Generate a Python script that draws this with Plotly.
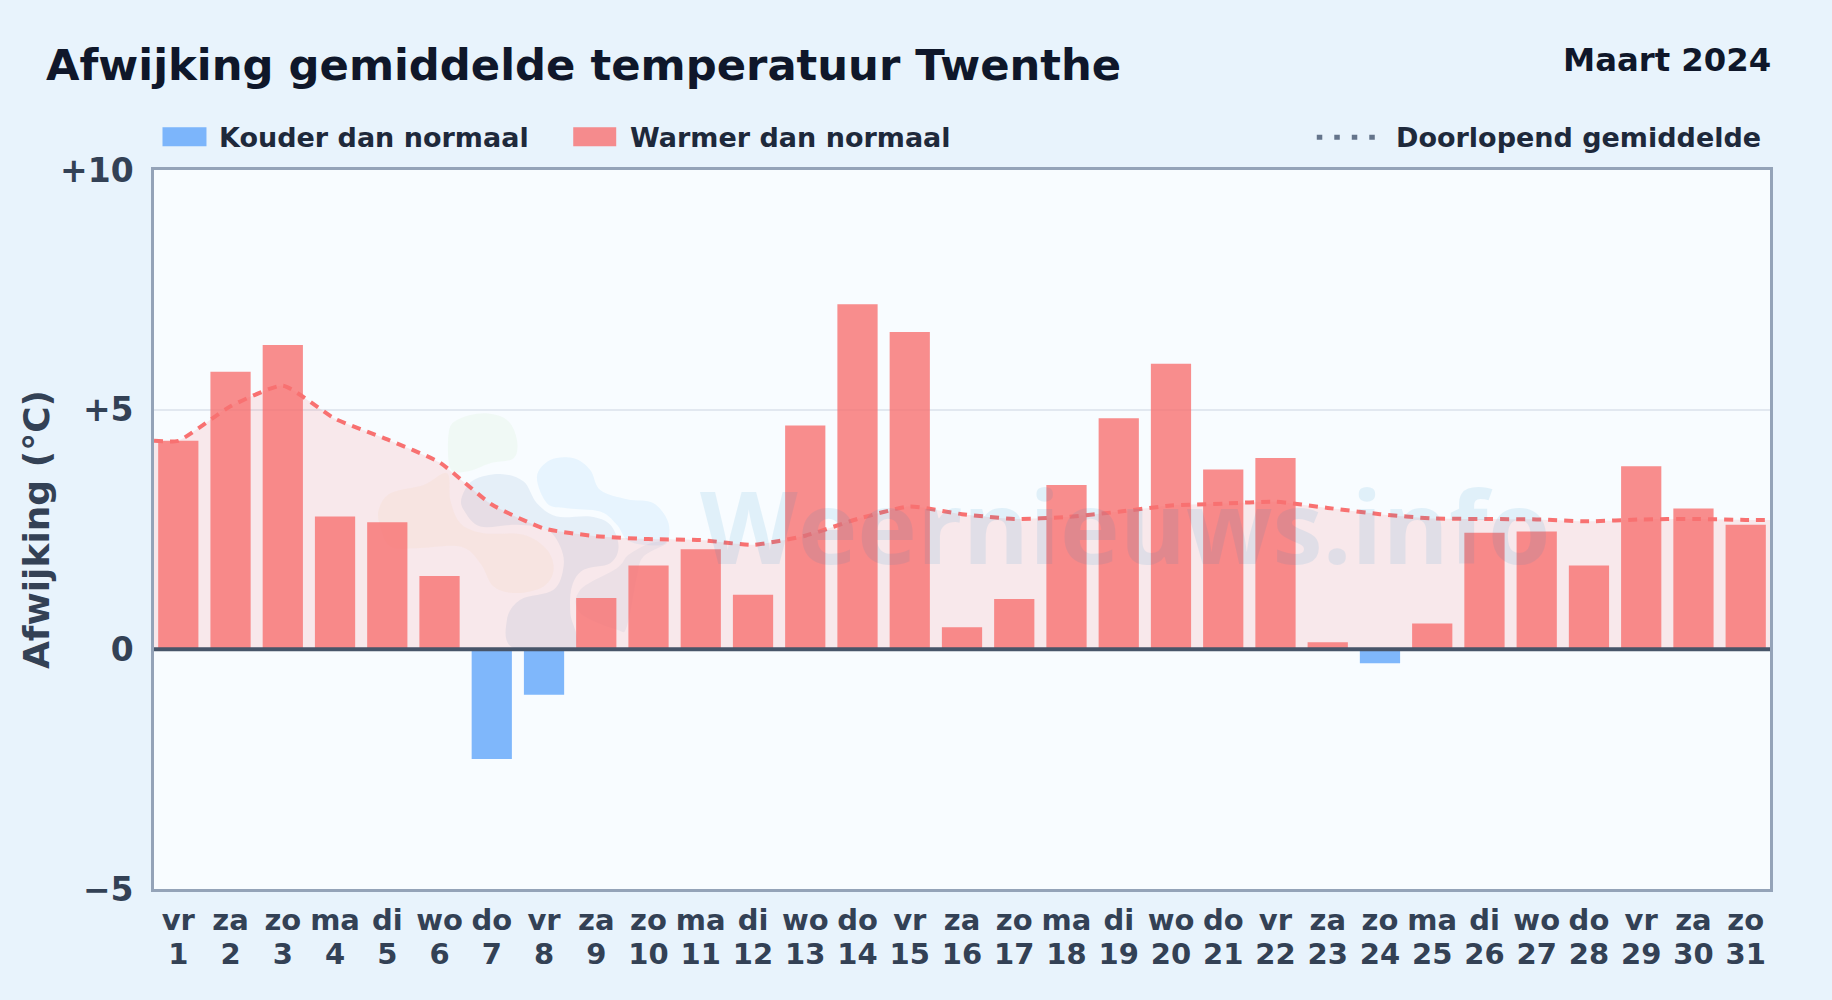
import plotly.graph_objects as go

days = ["vr","za","zo","ma","di","wo","do","vr","za","zo","ma","di","wo","do","vr","za","zo","ma","di","wo","do","vr","za","zo","ma","di","wo","do","vr","za","zo"]
dates = list(range(1, 32))
afwijking = [4.35,5.79,6.35,2.77,2.65,1.53,-2.29,-0.95,1.07,1.75,2.09,1.14,4.67,7.2,6.62,0.46,1.05,3.43,4.82,5.96,3.75,3.99,0.15,-0.29,0.54,2.43,2.46,1.75,3.82,2.94,2.6]
doorlopend = [4.35,5.07,5.5,4.81,4.38,3.9,3.02,2.52,2.36,2.3,2.28,2.18,2.37,2.72,2.98,2.82,2.72,2.76,2.87,3.0,3.04,3.08,2.95,2.82,2.73,2.72,2.71,2.67,2.71,2.72,2.7]
ytick_vals = [-5, 0, 5, 10]
ytick_text = ["−5", "0", "+5", "+10"]
x_range = [0.535, 31.465]

W, H = 1832, 1000
L, R, T, B = 153.5, 1770.5, 169.8, 889.5
FONT = "DejaVu Sans"
def px(x): return (x - L) / (R - L)
def py(y): return (B - y) / (B - T)

warm_x = [d for d, v in zip(dates, afwijking) if v >= 0]
warm_y = [v for v in afwijking if v >= 0]
cold_x = [d for d, v in zip(dates, afwijking) if v < 0]
cold_y = [v for v in afwijking if v < 0]

fig = go.Figure()
line_x = [x_range[0]] + dates + [x_range[1]]
line_y = [doorlopend[0]] + doorlopend + [doorlopend[-1]]
fig.add_trace(go.Scatter(x=line_x, y=line_y, mode="lines", fill="tozeroy",
                         fillcolor="rgba(248,113,113,0.14)", line=dict(width=0, shape="spline", smoothing=0.5),
                         hoverinfo="skip", showlegend=False))
fig.add_trace(go.Bar(x=warm_x, y=warm_y, name="Warmer dan normaal", marker=dict(color="rgba(248,113,113,0.8)", line_width=0)))
fig.add_trace(go.Bar(x=cold_x, y=cold_y, name="Kouder dan normaal", marker=dict(color="rgba(96,165,250,0.8)", line_width=0)))
fig.add_trace(go.Scatter(x=line_x, y=line_y, mode="lines", name="Doorlopend gemiddelde",
                         line=dict(color="#f87171", width=4, dash="9px,7px", shape="spline", smoothing=0.5)))

# watermark logo blobs (zoomed-crop coordinates)
def blob(points, color):
    pts = [(350 + x / 3, 400 + y / 3) for x, y in points]
    n = len(pts)
    P = [(px(x), py(y)) for x, y in pts]
    d = f"M {P[0][0]:.5f} {P[0][1]:.5f}"
    for i in range(n):
        p0, p1, p2, p3 = P[i - 1], P[i], P[(i + 1) % n], P[(i + 2) % n]
        c1 = (p1[0] + (p2[0] - p0[0]) / 6, p1[1] + (p2[1] - p0[1]) / 6)
        c2 = (p2[0] - (p3[0] - p1[0]) / 6, p2[1] - (p3[1] - p1[1]) / 6)
        d += f" C {c1[0]:.5f} {c1[1]:.5f} {c2[0]:.5f} {c2[1]:.5f} {p2[0]:.5f} {p2[1]:.5f}"
    return dict(type="path", xref="paper", yref="paper", path=d + " Z", fillcolor=color, line_width=0, layer="below")

shapes = [
    blob([(295,100),(320,60),(400,40),(470,60),(500,120),(490,175),(420,190),(350,215),(300,205)], "rgba(190,230,170,0.12)"),
    blob([(560,230),(600,180),(670,175),(720,210),(750,270),(830,298),(910,310),(955,370),(945,430),(880,435),(830,420),(800,375),(750,335),(650,325),(590,310)], "rgba(125,200,250,0.14)"),
    blob([(335,290),(370,240),(450,222),(520,245),(560,310),(620,350),(720,350),(780,375),(805,440),(780,490),(700,510),(665,560),(660,640),(672,745),(490,745),(470,660),(510,600),(610,570),(640,500),(630,440),(590,390),(500,375),(390,380),(340,330)], "rgba(70,130,190,0.10)"),
    blob([(690,570),(800,505),(835,465),(900,430),(950,430),(880,470),(860,530),(830,680),(800,690),(690,640)], "rgba(70,130,190,0.07)"),
    blob([(85,330),(120,280),(220,255),(290,220),(300,300),(330,370),(400,400),(520,405),(590,450),(610,510),(580,560),(500,580),(430,560),(390,490),(330,440),(200,445),(120,440),(90,380)], "rgba(245,190,110,0.08)"),
    # zero line
    dict(type="line", xref="paper", x0=0, x1=1, yref="y", y0=0, y1=0, line=dict(color="#475569", width=4)),
    # legend swatches
    dict(type="rect", xref="paper", yref="paper", x0=px(162), x1=px(206), y0=py(127), y1=py(146), fillcolor="rgba(96,165,250,0.8)", line_width=0),
    dict(type="rect", xref="paper", yref="paper", x0=px(573), x1=px(616), y0=py(127), y1=py(146), fillcolor="rgba(248,113,113,0.8)", line_width=0),
    dict(type="line", xref="paper", yref="paper", x0=px(1317), x1=px(1376), y0=py(137), y1=py(137), line=dict(color="#64748b", width=5, dash="5.5px,12px")),
]

def note(text, x, y, size, color, anchor="left"):
    return dict(text=f"<b>{text}</b>", xref="paper", yref="paper", x=px(x), y=py(y), xanchor=anchor, yanchor="middle",
                showarrow=False, font=dict(family=FONT, size=size, color=color))

annotations = [
    dict(text="Weernieuws.info", xref="paper", yref="paper", x=px(698), y=py(525), xanchor="left", yanchor="middle",
         showarrow=False, font=dict(family="Open Sans", size=101, weight=700, color="#0284c7"), opacity=0.09),
    note("Afwijking gemiddelde temperatuur Twenthe", 43, 65, 43.3, "#0f172a"),
    note("Maart 2024", 1774, 59.5, 32.3, "#0f172a", "right"),
    note("Kouder dan normaal", 216.7, 137, 27, "#1e293b"),
    note("Warmer dan normaal", 627.7, 137, 27, "#1e293b"),
    note("Doorlopend gemiddelde", 1394, 137, 27, "#1e293b"),
]

fig.update_layout(
    width=W, height=H, autosize=False,
    paper_bgcolor="#e8f3fc", plot_bgcolor="#f8fcff",
    margin=dict(l=L, r=W - R, t=T, b=H - B, pad=0),
    barmode="overlay", bargap=0.23, showlegend=False,
    font=dict(family=FONT),
    shapes=shapes, annotations=annotations,
    xaxis=dict(range=x_range, tickmode="array", tickvals=dates,
               ticktext=[f"<span style='font-size:29px'><b>{d}</b><br><b>{n}</b></span>" for d, n in zip(days, dates)],
               tickangle=0, ticks="", ticklabelstandoff=7, showgrid=False, zeroline=False, showline=True, mirror=True,
               linecolor="#94a3b8", linewidth=2.6, tickfont=dict(family=FONT, size=26, color="#334155")),
    yaxis=dict(range=[-5, 10], tickmode="array", tickvals=ytick_vals,
               ticktext=[f"<b>{t}</b>" for t in ytick_text], ticklabelstandoff=11,
               ticks="", showgrid=True, gridcolor="#e2e8f0", gridwidth=2, zeroline=False, showline=True, mirror=True,
               linecolor="#94a3b8", linewidth=2.6, tickfont=dict(family=FONT, size=33, color="#334155"),
               title=dict(text="<b>Afwijking (°C)</b>", font=dict(family=FONT, size=36, color="#334155"), standoff=0)),
)

fig.write_html("out.html", config=dict(displayModeBar=False),
               post_script="document.body.style.margin='0';document.body.style.overflow='hidden';")
